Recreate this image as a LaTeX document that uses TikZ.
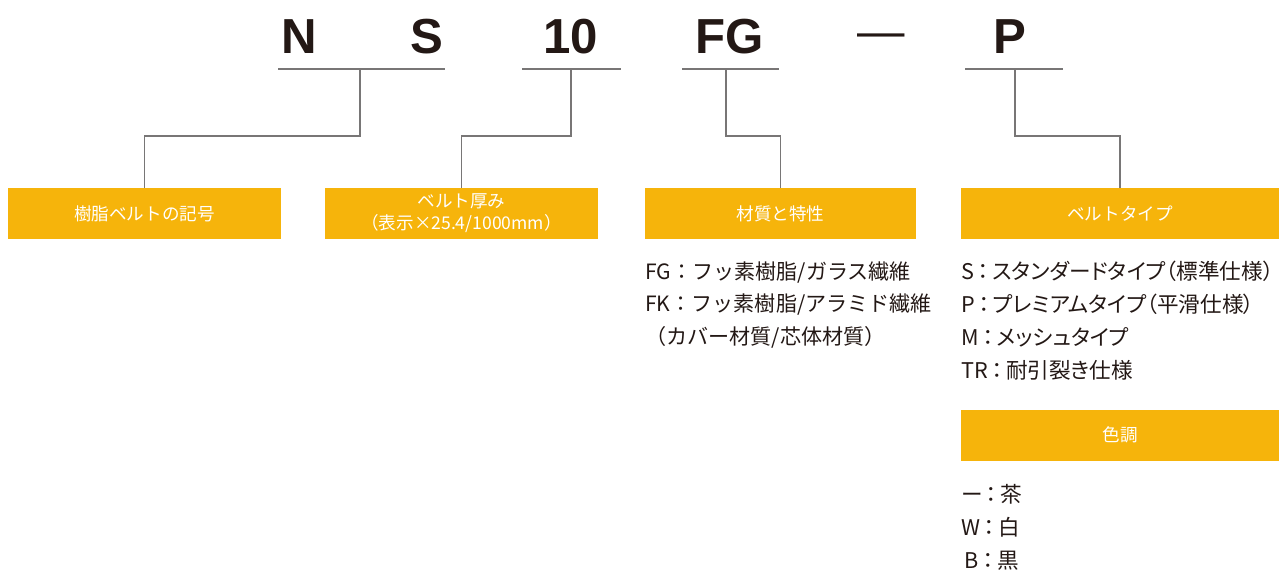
\documentclass[tikz,border=0pt]{standalone}
\usepackage{fontspec}
\setmainfont{Noto Sans CJK JP}
\newfontfamily\codefont{Liberation Sans}
\newfontfamily\listfont{Noto Sans CJK JP}[RawFeature=+palt]
\usetikzlibrary{positioning,calc}
\definecolor{TagOrange}{RGB}{246,180,11}
\definecolor{InkBrown}{RGB}{35,24,21}
\definecolor{RuleGray}{RGB}{120,118,118}
\tikzset{
  code/.style={font=\codefont\bfseries\fontsize{28}{28}\selectfont,text=InkBrown,
    inner sep=0pt,anchor=base},
  rule/.style={draw=RuleGray,line width=0.8pt},
  link/.style={draw=RuleGray,line width=0.8pt},
  tag/.style={fill=TagOrange,text=white,minimum width=5.46cm,minimum height=1.02cm,
    inner sep=0pt,align=center,font=\fontsize{10}{12.5}\selectfont},
  widetag/.style={tag,minimum width=6.36cm},
  listing/.style={text=InkBrown,inner sep=0pt,anchor=north west,align=left,
    font=\listfont\fontsize{12.3}{18.7}\selectfont}
}
\begin{document}
\begin{tikzpicture}[x=0.02cm,y=-0.02cm]
  \useasboundingbox (0,0) rectangle (1286,572);
  % code letters
  \node[code] (cN) at (299,53) {N};
  \node[code] (cS) at (427,53) {S};
  \node[code] (cT) at (571,53) {10};
  \node[code] (cF) at (730,53) {FG};
  \node[code,font=\codefont\fontsize{27}{27}\selectfont] (cD) at (881,47) {—};
  \node[code] (cP) at (1010,53) {P};
  % underlines
  \draw[rule] (278,69) -- (445,69);
  \draw[rule] (522,69) -- (621,69);
  \draw[rule] (682,69) -- (779,69);
  \draw[rule] (965,69) -- (1063,69);
  \coordinate (u1) at (360,69);
  \coordinate (u2) at (571,69);
  \coordinate (u3) at (726,69);
  \coordinate (u4) at (1015,69);
  % tags
  \node[tag] (t1) at (144.5,213.5) {樹脂ベルトの記号};
  \node[tag] (t2) at (461.5,213.5) {ベルト厚み\\（表示×25.4/1000mm）};
  \node[tag,minimum width=5.42cm] (t3) at (780.5,213.5) {材質と特性};
  \node[widetag] (t4) at (1120,213.5) {ベルトタイプ};
  \node[widetag] (t5) at (1120,435) {色調};
  % links
  \draw[link] (u1) -- ++(0,67) -| (t1.north);
  \draw[link] (u2) -- ++(0,67) -| (t2.north);
  \draw[link] (u3) -- ++(0,67) -| (t3.north);
  \draw[link] (u4) -- ++(0,67) -| (t4.north);
  % lists
  \node[listing,font=\fontsize{12}{18.7}\selectfont] (l3) at (645,261) {FG：フッ素樹脂/ガラス繊維\\FK：フッ素樹脂/アラミド繊維\\（カバー材質/芯体材質）};
  \node[listing] (l4) at (961,261) {S\,：\,スタンダードタイプ（標準仕様）\\P\,：\,プレミアムタイプ（平滑仕様）\\M\,：\,メッシュタイプ\\TR\,：\,耐引裂き仕様};
  \node[listing] (l5) at (961,484) {ー\,：\,茶\\W\,：\,白\\\,B\,：\,黒};
\end{tikzpicture}
\end{document}
